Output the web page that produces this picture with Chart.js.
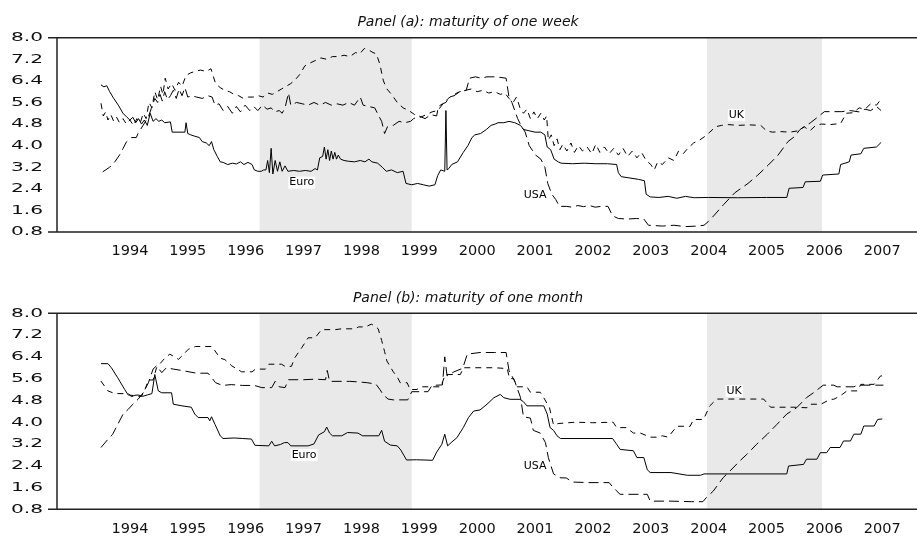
<!DOCTYPE html>
<html>
<head>
<meta charset="utf-8">
<script src="https://cdn.jsdelivr.net/npm/chart.js@4.4.0/dist/chart.umd.min.js"></script>
<style>
    html, body { margin: 0; padding: 0; background: #fff; }
    #wrap { position: relative; width: 917px; height: 536px; }
    .panel { position: absolute; left: 0; width: 917px; height: 268px; }
</style>
</head>
<body>
<div id="wrap">
    <div class="panel" style="top:0"><canvas id="panelA"></canvas></div>
    <div class="panel" style="top:268px"><canvas id="panelB"></canvas></div>
</div>
<script>
// Panel titles
const titleA = 'Panel (a): maturity of one week';
const titleB = 'Panel (b): maturity of one month';

// X axis: one label per year, placed at the middle of that year
const yearLabels = ['1994', '1995', '1996', '1997', '1998', '1999', '2000',
                    '2001', '2002', '2003', '2004', '2005', '2006', '2007'];
const yTicks = [0.8, 1.6, 2.4, 3.2, 4.0, 4.8, 5.6, 6.4, 7.2, 8.0];

// Shaded periods (decimal years)
const shadeStart = [1996.74, 2004.47];
const shadeEnd = [1999.37, 2006.46];

// Series names and where their labels sit, [year, rate]
const seriesNames = ['Euro', 'USA', 'UK'];
const labelSpotsA = [[1997.47, 2.63], [2001.50, 2.17], [2004.98, 5.13]];
const labelSpotsB = [[1997.51, 2.79], [2001.50, 2.39], [2004.94, 5.15]];

// Panel (a): one week rates, [decimal year, rate]
const euroWeek = [
    [1994.00,6.25],[1994.05,6.18],[1994.10,6.22],[1994.15,6.00],[1994.22,5.75],[1994.30,5.50],[1994.38,5.20],
    [1994.45,5.05],[1994.50,4.95],[1994.55,5.05],[1994.60,4.85],[1994.65,5.00],[1994.70,4.80],[1994.75,4.95],
    [1994.80,4.75],[1994.85,5.20],[1994.90,4.90],[1994.95,5.00],[1995.00,4.90],[1995.05,4.95],[1995.10,4.85],
    [1995.20,4.88],[1995.23,4.50],[1995.45,4.50],[1995.47,4.85],[1995.50,4.45],[1995.55,4.40],[1995.62,4.35],
    [1995.70,4.30],[1995.75,4.15],[1995.82,4.10],[1995.87,4.00],[1995.91,4.15],[1995.95,3.85],[1996.01,3.60],
    [1996.06,3.40],[1996.11,3.38],[1996.19,3.30],[1996.27,3.35],[1996.34,3.32],[1996.41,3.40],[1996.47,3.30],
    [1996.54,3.38],[1996.61,3.30],[1996.65,3.10],[1996.71,3.05],[1996.77,3.05],[1996.81,3.10],[1996.85,3.10],
    [1996.88,3.45],[1996.91,3.00],[1996.94,3.90],[1996.97,2.95],[1997.01,3.45],[1997.05,3.05],[1997.09,3.40],
    [1997.13,3.05],[1997.18,3.25],[1997.23,3.05],[1997.33,3.08],[1997.43,3.05],[1997.53,3.08],[1997.63,3.05],
    [1997.70,3.15],[1997.74,3.10],[1997.78,3.55],[1997.83,3.60],[1997.86,3.95],[1997.89,3.50],[1997.92,3.85],
    [1997.95,3.45],[1997.98,3.80],[1998.01,3.50],[1998.04,3.75],[1998.07,3.50],[1998.10,3.65],[1998.14,3.50],
    [1998.20,3.45],[1998.28,3.42],[1998.38,3.40],[1998.48,3.45],[1998.56,3.40],[1998.63,3.50],[1998.68,3.40],
    [1998.78,3.35],[1998.86,3.20],[1998.93,3.05],[1999.02,3.10],[1999.12,3.00],[1999.22,3.05],[1999.27,2.60],
    [1999.37,2.55],[1999.47,2.60],[1999.57,2.55],[1999.67,2.50],[1999.77,2.55],[1999.82,2.90],[1999.87,3.10],
    [1999.94,3.05],[1999.96,5.30],[1999.98,3.10],[2000.01,3.15],[2000.06,3.30],[2000.16,3.40],[2000.26,3.75],
    [2000.34,4.00],[2000.41,4.30],[2000.46,4.40],[2000.56,4.45],[2000.66,4.60],[2000.74,4.75],[2000.81,4.80],
    [2000.86,4.85],[2000.96,4.85],[2001.05,4.90],[2001.15,4.85],[2001.25,4.75],[2001.30,4.60],[2001.40,4.55],
    [2001.50,4.50],[2001.60,4.50],[2001.67,4.40],[2001.71,3.95],[2001.77,3.85],[2001.83,3.50],[2001.90,3.40],
    [2001.95,3.35],[2002.15,3.33],[2002.35,3.35],[2002.55,3.33],[2002.75,3.33],[2002.91,3.30],[2002.94,3.00],
    [2002.99,2.85],[2003.14,2.80],[2003.29,2.75],[2003.39,2.70],[2003.42,2.20],[2003.49,2.10],[2003.64,2.08],
    [2003.80,2.12],[2003.95,2.05],[2004.10,2.12],[2004.25,2.07],[2004.50,2.08],[2005.00,2.07],[2005.50,2.08],
    [2005.85,2.08],[2005.89,2.42],[2006.13,2.45],[2006.17,2.66],[2006.43,2.68],[2006.47,2.91],[2006.75,2.95],
    [2006.78,3.30],[2006.93,3.40],[2006.96,3.65],[2007.13,3.70],[2007.18,3.90],[2007.40,3.95],[2007.48,4.12]
];
const usaWeek = [
    [1994.03,3.03],[1994.15,3.20],[1994.24,3.40],[1994.32,3.65],[1994.38,3.89],[1994.44,4.14],[1994.53,4.30],
    [1994.61,4.30],[1994.64,4.45],[1994.73,4.76],[1994.82,5.07],[1994.87,5.38],[1994.93,5.75],[1994.98,5.60],
    [1995.02,5.90],[1995.06,5.65],[1995.10,6.00],[1995.15,5.70],[1995.20,5.85],[1995.25,6.05],[1995.30,5.75],
    [1995.35,6.10],[1995.40,5.85],[1995.45,6.15],[1995.50,5.80],[1995.57,5.85],[1995.65,5.80],[1995.75,5.75],
    [1995.85,5.85],[1995.92,5.80],[1995.97,5.50],[1996.04,5.55],[1996.11,5.30],[1996.19,5.45],[1996.27,5.20],
    [1996.34,5.45],[1996.41,5.25],[1996.49,5.50],[1996.57,5.30],[1996.64,5.45],[1996.71,5.30],[1996.79,5.50],
    [1996.87,5.35],[1996.94,5.40],[1997.00,5.25],[1997.08,5.30],[1997.13,5.20],[1997.18,5.40],[1997.24,5.95],
    [1997.28,5.50],[1997.38,5.60],[1997.48,5.55],[1997.58,5.50],[1997.68,5.60],[1997.78,5.50],[1997.88,5.60],
    [1997.98,5.50],[1998.08,5.55],[1998.18,5.50],[1998.28,5.60],[1998.38,5.50],[1998.48,5.80],[1998.53,5.50],
    [1998.63,5.45],[1998.73,5.40],[1998.80,5.10],[1998.85,4.90],[1998.90,4.45],[1998.95,4.70],[1999.05,4.75],
    [1999.15,4.90],[1999.25,4.85],[1999.35,4.90],[1999.40,5.00],[1999.50,5.10],[1999.60,5.00],[1999.70,5.15],
    [1999.80,5.10],[1999.83,5.45],[1999.90,5.55],[1999.96,5.60],[2000.02,5.80],[2000.10,5.85],[2000.20,6.00],
    [2000.31,6.05],[2000.37,6.50],[2000.47,6.55],[2000.57,6.50],[2000.67,6.55],[2000.82,6.55],[2001.00,6.50],
    [2001.05,5.80],[2001.10,5.60],[2001.20,5.00],[2001.27,4.70],[2001.33,4.50],[2001.40,4.00],[2001.51,3.65],
    [2001.60,3.50],[2001.67,3.20],[2001.72,2.60],[2001.79,2.20],[2001.86,2.00],[2001.92,1.75],[2002.04,1.75],
    [2002.14,1.72],[2002.24,1.78],[2002.34,1.74],[2002.44,1.78],[2002.54,1.72],[2002.64,1.75],[2002.76,1.75],
    [2002.84,1.40],[2002.94,1.30],[2003.10,1.28],[2003.25,1.30],[2003.38,1.28],[2003.46,1.05],[2003.70,1.02],
    [2003.90,1.05],[2004.10,1.00],[2004.30,1.02],[2004.42,1.05],[2004.49,1.18],[2004.60,1.43],[2004.76,1.82],
    [2004.95,2.25],[2005.18,2.60],[2005.35,2.91],[2005.53,3.28],[2005.70,3.65],[2005.87,4.15],[2005.98,4.33],
    [2006.08,4.60],[2006.26,4.85],[2006.38,5.05],[2006.50,5.26],[2006.80,5.26],[2006.95,5.30],[2007.10,5.25],
    [2007.20,5.35],[2007.30,5.30],[2007.40,5.45],[2007.48,5.30]
];
const ukWeek = [
    [1994.00,5.57],[1994.04,5.10],[1994.08,5.25],[1994.12,4.95],[1994.17,5.15],[1994.22,4.90],[1994.27,5.05],
    [1994.32,4.85],[1994.38,5.00],[1994.44,4.80],[1994.50,4.95],[1994.56,4.75],[1994.62,5.00],[1994.68,4.85],
    [1994.73,5.20],[1994.78,5.00],[1994.83,5.60],[1994.88,5.40],[1994.93,6.00],[1994.98,5.70],[1995.03,6.20],
    [1995.07,5.90],[1995.11,6.50],[1995.16,6.10],[1995.22,6.30],[1995.28,6.05],[1995.34,6.35],[1995.40,6.20],
    [1995.47,6.60],[1995.55,6.70],[1995.63,6.75],[1995.72,6.80],[1995.82,6.75],[1995.90,6.85],[1995.98,6.30],
    [1996.06,6.15],[1996.14,6.05],[1996.22,6.00],[1996.30,5.90],[1996.38,5.85],[1996.46,5.75],[1996.55,5.80],
    [1996.63,5.80],[1996.72,5.85],[1996.80,5.80],[1996.88,5.95],[1996.96,5.90],[1997.04,6.00],[1997.12,6.10],
    [1997.20,6.20],[1997.28,6.30],[1997.36,6.45],[1997.44,6.65],[1997.52,6.95],[1997.60,7.05],[1997.70,7.15],
    [1997.80,7.25],[1997.90,7.20],[1998.00,7.30],[1998.10,7.30],[1998.20,7.35],[1998.30,7.30],[1998.40,7.45],
    [1998.47,7.40],[1998.55,7.60],[1998.62,7.55],[1998.70,7.45],[1998.76,7.40],[1998.82,7.00],[1998.88,6.40],
    [1998.94,6.10],[1999.02,5.90],[1999.12,5.60],[1999.22,5.40],[1999.32,5.30],[1999.42,5.15],[1999.52,5.05],
    [1999.62,5.15],[1999.72,5.25],[1999.82,5.30],[1999.91,5.55],[2000.00,5.75],[2000.10,5.90],[2000.20,6.00],
    [2000.30,6.05],[2000.40,6.10],[2000.50,6.00],[2000.60,6.05],[2000.70,5.95],[2000.80,6.00],[2000.90,5.90],
    [2000.98,5.95],[2001.05,5.75],[2001.12,5.60],[2001.18,5.80],[2001.24,5.40],[2001.30,5.20],[2001.36,5.35],
    [2001.42,5.00],[2001.48,5.25],[2001.54,5.00],[2001.60,5.20],[2001.66,4.95],[2001.70,5.10],[2001.73,4.20],
    [2001.78,4.40],[2001.83,4.00],[2001.88,4.25],[2001.93,3.85],[2001.98,4.05],[2002.05,3.80],[2002.12,4.10],
    [2002.18,3.75],[2002.25,4.00],[2002.32,3.80],[2002.40,3.95],[2002.48,3.70],[2002.55,4.05],[2002.62,3.75],
    [2002.70,3.95],[2002.78,3.70],[2002.86,3.90],[2002.94,3.65],[2003.02,3.90],[2003.10,3.60],[2003.18,3.80],
    [2003.26,3.55],[2003.34,3.75],[2003.42,3.45],[2003.50,3.30],[2003.56,3.10],[2003.62,3.40],[2003.70,3.30],
    [2003.80,3.55],[2003.90,3.45],[2003.98,3.80],[2004.06,3.70],[2004.14,3.90],[2004.24,4.10],[2004.34,4.20],
    [2004.44,4.35],[2004.52,4.50],[2004.62,4.70],[2004.72,4.75],[2004.85,4.78],[2005.00,4.75],[2005.20,4.77],
    [2005.40,4.75],[2005.50,4.55],[2005.60,4.50],[2005.75,4.52],[2005.90,4.50],[2006.05,4.55],[2006.15,4.70],
    [2006.25,4.55],[2006.35,4.75],[2006.45,4.80],[2006.60,4.78],[2006.78,4.82],[2006.88,5.20],[2007.00,5.22],
    [2007.10,5.40],[2007.20,5.35],[2007.30,5.55],[2007.40,5.50],[2007.47,5.70]
];

// Panel (b): one month rates, [decimal year, rate]
const euroMonth = [
    [1994.00,6.15],[1994.12,6.15],[1994.18,6.00],[1994.29,5.63],[1994.41,5.20],[1994.47,5.00],[1994.56,4.98],
    [1994.64,5.00],[1994.72,4.95],[1994.80,5.00],[1994.88,5.05],[1994.93,5.75],[1994.99,5.15],[1995.05,5.08],
    [1995.22,5.08],[1995.25,4.66],[1995.40,4.60],[1995.56,4.55],[1995.62,4.30],[1995.68,4.17],[1995.85,4.17],
    [1995.88,4.05],[1995.91,4.20],[1995.97,3.92],[1996.06,3.50],[1996.11,3.40],[1996.30,3.42],[1996.45,3.40],
    [1996.60,3.38],[1996.66,3.15],[1996.90,3.13],[1996.95,3.30],[1997.00,3.13],[1997.10,3.18],[1997.17,3.25],
    [1997.23,3.25],[1997.28,3.13],[1997.58,3.13],[1997.68,3.20],[1997.76,3.53],[1997.86,3.65],[1997.90,3.82],
    [1997.95,3.60],[1998.00,3.50],[1998.16,3.50],[1998.26,3.62],[1998.44,3.60],[1998.52,3.50],[1998.80,3.50],
    [1998.85,3.70],[1998.90,3.30],[1999.00,3.16],[1999.12,3.13],[1999.18,2.98],[1999.28,2.61],[1999.45,2.62],
    [1999.73,2.60],[1999.80,2.90],[1999.89,3.19],[1999.94,3.56],[1999.99,3.13],[2000.05,3.25],[2000.15,3.43],
    [2000.26,3.80],[2000.35,4.17],[2000.44,4.41],[2000.55,4.45],[2000.67,4.66],[2000.79,4.90],[2000.90,5.02],
    [2000.96,4.90],[2001.07,4.84],[2001.24,4.84],[2001.30,4.75],[2001.36,4.60],[2001.65,4.60],[2001.71,4.30],
    [2001.76,3.80],[2001.82,3.70],[2001.88,3.50],[2001.94,3.40],[2002.84,3.40],[2002.91,3.19],[2002.97,3.00],
    [2003.20,2.95],[2003.26,2.70],[2003.38,2.70],[2003.44,2.25],[2003.49,2.15],[2003.85,2.15],[2004.13,2.05],
    [2004.36,2.05],[2004.42,2.10],[2005.85,2.10],[2005.88,2.39],[2006.14,2.45],[2006.19,2.64],[2006.37,2.64],
    [2006.43,2.88],[2006.54,2.88],[2006.60,3.07],[2006.77,3.07],[2006.83,3.31],[2006.95,3.31],[2007.01,3.56],
    [2007.13,3.56],[2007.18,3.86],[2007.36,3.86],[2007.42,4.10],[2007.50,4.12]
];
const usaMonth = [
    [1994.00,3.07],[1994.12,3.37],[1994.20,3.55],[1994.29,3.92],[1994.38,4.29],[1994.47,4.47],[1994.55,4.66],
    [1994.64,4.84],[1994.73,5.08],[1994.82,5.45],[1994.90,5.95],[1994.96,6.07],[1995.05,5.82],[1995.13,6.00],
    [1995.25,5.95],[1995.40,5.90],[1995.52,5.85],[1995.65,5.80],[1995.85,5.80],[1995.98,5.45],[1996.10,5.35],
    [1996.25,5.38],[1996.45,5.35],[1996.65,5.35],[1996.78,5.27],[1996.95,5.27],[1997.01,5.50],[1997.08,5.30],
    [1997.18,5.27],[1997.24,5.56],[1997.50,5.56],[1997.70,5.58],[1997.88,5.56],[1997.91,5.90],[1997.95,5.50],
    [1998.30,5.50],[1998.45,5.48],[1998.60,5.45],[1998.75,5.40],[1998.82,5.20],[1998.88,5.00],[1998.96,4.85],
    [1999.05,4.82],[1999.30,4.82],[1999.37,5.12],[1999.65,5.12],[1999.72,5.35],[1999.90,5.37],[1999.94,6.40],
    [1999.98,5.70],[2000.10,5.85],[2000.25,5.98],[2000.33,6.50],[2000.55,6.56],[2000.80,6.56],[2001.00,6.56],
    [2001.05,5.90],[2001.15,5.50],[2001.25,4.90],[2001.30,4.20],[2001.42,4.15],[2001.47,3.70],[2001.59,3.60],
    [2001.68,3.25],[2001.73,2.70],[2001.82,2.10],[2001.93,1.96],[2002.04,1.95],[2002.15,1.80],[2002.45,1.78],
    [2002.78,1.78],[2002.85,1.60],[2002.97,1.35],[2003.44,1.35],[2003.49,1.10],[2003.85,1.10],[2004.20,1.08],
    [2004.40,1.08],[2004.46,1.23],[2004.58,1.47],[2004.75,1.96],[2004.87,2.21],[2005.04,2.58],[2005.16,2.82],
    [2005.33,3.19],[2005.51,3.55],[2005.68,3.92],[2005.85,4.30],[2006.02,4.53],[2006.19,4.90],[2006.31,5.08],
    [2006.48,5.36],[2006.66,5.36],[2006.72,5.30],[2007.01,5.30],[2007.07,5.36],[2007.52,5.36]
];
const ukMonth = [
    [1994.00,5.51],[1994.12,5.15],[1994.24,5.05],[1994.47,5.05],[1994.52,4.95],[1994.70,4.95],[1994.76,5.20],
    [1994.82,5.55],[1994.90,5.55],[1994.96,6.00],[1995.11,6.37],[1995.19,6.50],[1995.34,6.31],[1995.43,6.50],
    [1995.51,6.68],[1995.63,6.78],[1995.92,6.78],[1995.97,6.62],[1996.06,6.35],[1996.14,6.30],[1996.26,6.07],
    [1996.43,5.85],[1996.61,5.85],[1996.67,5.95],[1996.84,5.95],[1996.90,6.13],[1997.12,6.13],[1997.18,6.05],
    [1997.29,6.05],[1997.35,6.37],[1997.47,6.74],[1997.58,7.10],[1997.70,7.10],[1997.81,7.40],[1998.05,7.40],
    [1998.16,7.43],[1998.39,7.43],[1998.45,7.50],[1998.57,7.50],[1998.67,7.60],[1998.72,7.55],[1998.79,7.43],
    [1998.85,7.00],[1998.90,6.60],[1998.94,6.25],[1999.05,5.85],[1999.11,5.70],[1999.17,5.45],[1999.29,5.45],
    [1999.34,5.20],[1999.46,5.20],[1999.52,5.30],[1999.87,5.30],[1999.95,5.75],[2000.21,5.75],[2000.26,6.00],
    [2000.80,6.00],[2001.02,5.97],[2001.06,5.60],[2001.13,5.60],[2001.19,5.30],[2001.36,5.30],[2001.42,5.10],
    [2001.59,5.10],[2001.65,4.90],[2001.75,4.53],[2001.82,3.90],[2001.90,3.95],[2002.20,4.00],[2002.50,3.98],
    [2002.85,4.00],[2002.91,3.80],[2003.08,3.80],[2003.20,3.60],[2003.32,3.60],[2003.49,3.45],[2003.61,3.45],
    [2003.70,3.50],[2003.80,3.45],[2003.95,3.85],[2004.18,3.85],[2004.24,4.10],[2004.41,4.10],[2004.52,4.60],
    [2004.64,4.85],[2005.45,4.85],[2005.57,4.55],[2005.97,4.55],[2006.20,4.53],[2006.25,4.66],[2006.44,4.66],
    [2006.60,4.84],[2006.66,4.84],[2006.77,4.96],[2006.89,5.15],[2007.07,5.15],[2007.13,5.39],[2007.36,5.39],
    [2007.47,5.70],[2007.52,5.70]
];

Chart.defaults.font.family = '"DejaVu Sans", sans-serif';
Chart.defaults.color = '#111';

/**
 * Grey bands behind the lines
 */
const shadePlugin = {
    id: 'shade',
    beforeDatasetsDraw(chart) {
        const { ctx, chartArea, scales } = chart;
        ctx.save();
        ctx.fillStyle = '#e9e9e9';
        shadeStart.forEach((start, i) => {
            const x0 = scales.x.getPixelForValue(start);
            const x1 = scales.x.getPixelForValue(shadeEnd[i]);
            ctx.fillRect(x0, chartArea.top, x1 - x0, chartArea.bottom - chartArea.top);
        });
        ctx.restore();
    }
};

/**
 * Frame lines, y labels, series names and the panel title
 */
const panelPlugin = {
    id: 'panelText',
    afterDatasetsDraw(chart, args, opts) {
        const { ctx, chartArea, scales } = chart;
        ctx.save();

        // frame: top and bottom run out past the y axis
        ctx.strokeStyle = '#222';
        ctx.lineWidth = 1.5;
        ctx.beginPath();
        ctx.moveTo(chartArea.left - 9, chartArea.top);
        ctx.lineTo(chartArea.right, chartArea.top);
        ctx.moveTo(chartArea.left - 9, chartArea.bottom);
        ctx.lineTo(chartArea.right, chartArea.bottom);
        ctx.moveTo(chartArea.left, chartArea.top);
        ctx.lineTo(chartArea.left, chartArea.bottom);
        ctx.stroke();

        // series names on white boxes
        ctx.font = '11px "DejaVu Sans"';
        ctx.textAlign = 'center';
        ctx.textBaseline = 'middle';
        seriesNames.forEach((name, i) => {
            const px = scales.x.getPixelForValue(opts.spots[i][0]);
            const py = scales.y.getPixelForValue(opts.spots[i][1]);
            const w = ctx.measureText(name).width;
            ctx.fillStyle = '#fff';
            ctx.fillRect(px - w / 2 - 1, py - 6, w + 2, 12);
            ctx.fillStyle = '#000';
            ctx.fillText(name, px, py);
        });

        // y tick labels, drawn wide like the original
        ctx.font = '13px "DejaVu Sans"';
        ctx.textAlign = 'right';
        yTicks.forEach(v => {
            const py = scales.y.getPixelForValue(v);
            ctx.save();
            ctx.translate(43, py);
            ctx.scale(1.55, 1);
            ctx.fillStyle = '#111';
            ctx.fillText(v.toFixed(1), 0, 0);
            ctx.restore();
        });

        // title
        ctx.font = 'italic 14px "DejaVu Sans"';
        ctx.textAlign = 'center';
        ctx.fillStyle = '#111';
        ctx.fillText(opts.title, 468, opts.titleY);

        ctx.restore();
    }
};

function toPoints(pairs) {
    return pairs.map(p => ({ x: p[0], y: p[1] }));
}

function lineSet(name, pairs, dash) {
    return {
        label: name,
        data: toPoints(pairs),
        borderColor: '#000',
        borderWidth: 1,
        borderDash: dash,
        pointRadius: 0,
        fill: false,
        tension: 0
    };
}

/**
 * Build one panel
 */
function renderPanel(canvasId, title, titleY, padTop, axisHeight, euro, usa, uk, spots) {
    const canvas = document.getElementById(canvasId);
    return new Chart(canvas, {
        type: 'line',
        data: {
            datasets: [
                lineSet('Euro', euro, []),
                lineSet('USA', usa, [10, 5]),
                lineSet('UK', uk, [6, 5])
            ]
        },
        options: {
            responsive: true,
            maintainAspectRatio: false,
            animation: false,
            layout: { padding: { top: padTop, left: 0, right: 0, bottom: 0 } },
            plugins: {
                legend: { display: false },
                tooltip: { enabled: false },
                title: { display: false },
                panelText: { title: title, titleY: titleY, spots: spots }
            },
            scales: {
                x: {
                    type: 'linear',
                    min: 1993.24,
                    max: 2008.10,
                    grid: { display: false },
                    border: { display: false },
                    afterBuildTicks: function(scale) {
                        scale.ticks = yearLabels.map(y => ({ value: Number(y) + 0.5 }));
                    },
                    afterFit: function(scale) {
                        scale.height = axisHeight;
                    },
                    ticks: {
                        autoSkip: false,
                        maxRotation: 0,
                        padding: 3,
                        color: '#111',
                        font: { size: 14.5 },
                        callback: function(value, index) {
                            return yearLabels[index];
                        }
                    }
                },
                y: {
                    min: 0.8,
                    max: 8.0,
                    grid: { display: false },
                    border: { display: false },
                    ticks: { display: false },
                    afterFit: function(scale) {
                        scale.width = 57;
                    }
                }
            }
        },
        plugins: [shadePlugin, panelPlugin]
    });
}

renderPanel('panelA', titleA, 22.5, 37.7, 36, euroWeek, usaWeek, ukWeek, labelSpotsA);
renderPanel('panelB', titleB, 30, 45.3, 26.7, euroMonth, usaMonth, ukMonth, labelSpotsB);
</script>
</body>
</html>
